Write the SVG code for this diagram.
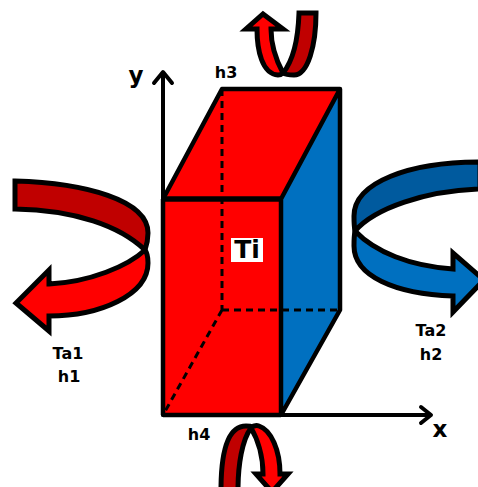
<svg xmlns="http://www.w3.org/2000/svg" width="478" height="487" viewBox="0 0 478 487">
<style>
.m{stroke:#000;stroke-width:5;stroke-linejoin:miter}
.d{fill:none;stroke:#000;stroke-width:3;stroke-dasharray:7 5}
.a{fill:none;stroke:#000;stroke-width:4;stroke-linecap:round;stroke-linejoin:round}
text{font-family:"DejaVu Sans",sans-serif;font-weight:700;fill:#000;text-anchor:middle}
.l{font-size:16px}
</style>
<rect width="478" height="487" fill="#fff"/>
<g id="connectors">
<path class="a" d="M163 415V73M154 83L163 72L172 83"/>
<path class="a" d="M163 415H430M421 407L431 415L421 423"/>
</g>
<g id="box">
<path d="M163 199L222 89H340L281 199Z" fill="#f00"/>
<rect x="163" y="199" width="118" height="216" fill="#f00"/>
<path d="M281 199L340 89V310L281 415Z" fill="#0070c0"/>
<path class="d" d="M222 89V310M222 310H340M222 310L163 415"/>
<path d="M163 199L222 89H340L281 199M340 89V310L281 415M163 415V199M281 199V415M163 415H281" fill="none" stroke="#000" stroke-width="4.5" stroke-linejoin="round"/>
<path d="M163 199H281" fill="none" stroke="#000" stroke-width="5.5"/>
</g>
<g id="ti">
<rect x="231" y="238" width="32" height="24" fill="#fff"/>
<text x="247" y="258" font-size="25">Ti</text>
</g>
<g id="arrow-left">
<path class="m" d="M15 181C85 183 148 200 148 233C148 238 147 244 145 250C120 226 75 210 15 209Z" fill="#c00000"/>
<path class="m" d="M145 250C148 254 148 258 148 263C148 295 100 316 49 316V331L16 303L49 270V284C90 282 128 266 145 250Z" fill="#f00"/>
<text class="l" x="68" y="359">Ta1</text>
<text class="l" x="69" y="382">h1</text>
</g>
<g id="arrow-right">
<path class="m" d="M480 162C410 162 354 182 354 216C354 221 354 226 355 231C375 208 425 191 480 189Z" fill="#005a9e"/>
<path class="m" d="M355 231C354 236 354 241 354 246C354 276 395 294 453 296V312L484 280L453 253V269C410 266 375 252 355 231Z" fill="#0070c0"/>
<text class="l" x="431" y="336">Ta2</text>
<text class="l" x="431" y="360">h2</text>
</g>
<g id="arrow-top">
<path class="m" d="M299 13C298 42 292 62 283 73C286 75 290 75 294 75C308 75 316 45 316 13Z" fill="#c00000"/>
<path class="m" d="M283 73C276 60 271 45 271 29H283L263 14L246 29H257C257 50 262 74 278 75C280 75 282 74 283 73Z" fill="#f00"/>
<text class="l" x="226" y="78">h3</text>
</g>
<g id="arrow-bottom">
<path class="m" d="M221 490C221 450 228 426 246 426C249 426 252 426 251 428C242 440 238 465 238 490Z" fill="#c00000"/>
<path class="m" d="M251 428C253 426 256 425 259 426C271 430 280 450 280 474H288L272 492L256 474H263C263 455 257 438 251 428Z" fill="#f00"/>
<text class="l" x="199" y="440">h4</text>
</g>
<g id="axis-labels">
<text x="136" y="83" font-size="23">y</text>
<text x="440" y="437" font-size="23">x</text>
</g>
</svg>
